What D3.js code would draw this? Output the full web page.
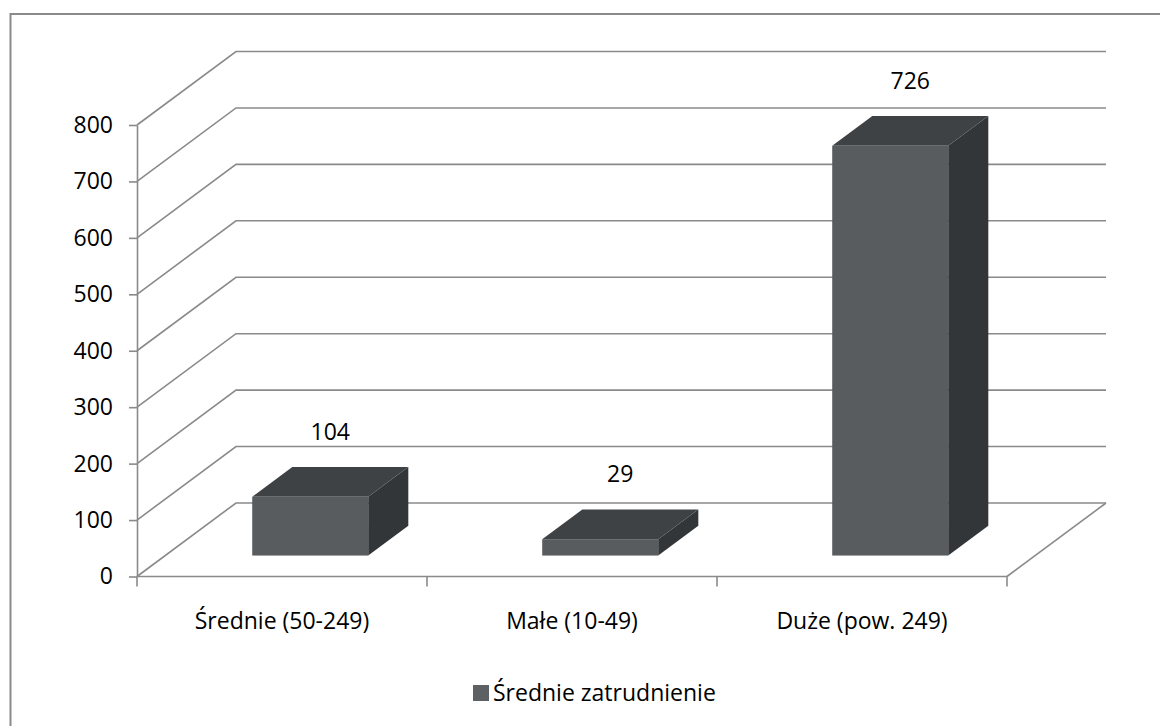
<!DOCTYPE html>
<html>
<head>
<meta charset="utf-8">
<script src="https://cdn.jsdelivr.net/npm/d3@7"></script>
<style>
  html, body { margin: 0; padding: 0; background: #fff; }
  svg { display: block; }
  text { font-family: "Open Sans", Lato, sans-serif; fill: #000; }
</style>
</head>
<body>
<svg id="chart" width="1160" height="726"></svg>
<script>
// Average employment by company size
const categories = ["Średnie (50-249)", "Małe (10-49)", "Duże (pow. 249)"];
const values = [104, 29, 726];
const yTickValues = [0, 100, 200, 300, 400, 500, 600, 700, 800];
const seriesName = "Średnie zatrudnienie";

const svg = d3.select("#chart");
const W = 1160, H = 726;
const FONT = "'Open Sans', Lato, sans-serif";
const FONT_SIZE = "23px";

// 3D frame geometry (oblique projection)
const plot = { left: 137, right: 1007, bottom: 576.5, top: 125 };
const depth = { dx: 99, dy: -73.5 };
const barDepth = [0.285, 0.69];   // fraction of the floor depth occupied by bars
const barWidthFrac = 0.4;         // bar width as fraction of the category band

const gridColor = "#8a8a8a";
const colors = { front: "#585c5e", top: "#3f4245", side: "#323639" };

const y = d3.scaleLinear().domain([0, 800]).range([plot.bottom, plot.top]);
const x = d3.scaleBand().domain(categories).range([plot.left, plot.right]).padding(0);

// Chart frame
svg.append("path")
  .attr("d", `M10.5,${H} L10.5,14 L${W},14`)
  .attr("fill", "none").attr("stroke", gridColor).attr("stroke-width", 2);

// Side wall diagonals + back wall gridlines
const grid = svg.append("g").attr("fill", "none").attr("stroke", gridColor).attr("stroke-width", 1.6);
yTickValues.forEach(v => {
  const yy = y(v);
  grid.append("path")
    .attr("d", `M${plot.left},${yy} L${plot.left + depth.dx},${yy + depth.dy} L${plot.right + depth.dx},${yy + depth.dy}`);
});
// Floor edges
grid.append("path")
  .attr("d", `M${plot.right},${y(0)} L${plot.right + depth.dx},${y(0) + depth.dy}`);
grid.append("path")
  .attr("d", `M${plot.left},${y(0)} L${plot.right},${y(0)}`);

// Left value axis
const yAxis = d3.axisLeft(y).tickValues(yTickValues).tickSize(8).tickSizeOuter(0).tickPadding(16);
const gy = svg.append("g").attr("transform", `translate(${plot.left},0)`).call(yAxis);
gy.select(".domain").attr("stroke", gridColor).attr("stroke-width", 1.6);
gy.selectAll(".tick line").attr("stroke", gridColor).attr("stroke-width", 1.6);
gy.selectAll(".tick text").style("font-size", FONT_SIZE).style("font-family", FONT).attr("fill", "#000");

// Category axis: labels at band centres, ticks at band boundaries
const xAxis = d3.axisBottom(x).tickSize(0).tickPadding(0);
const gx = svg.append("g").attr("transform", `translate(0,${plot.bottom})`).call(xAxis);
gx.select(".domain").remove();
gx.selectAll(".tick text")
  .attr("y", 52).attr("dy", 0)
  .style("font-size", FONT_SIZE).style("font-family", FONT).attr("fill", "#000");
const boundaries = categories.map(c => x(c)).concat([x(categories[categories.length - 1]) + x.bandwidth()]);
svg.append("g").selectAll("line").data(boundaries).join("line")
  .attr("x1", d => d).attr("x2", d => d)
  .attr("y1", plot.bottom).attr("y2", plot.bottom + 10)
  .attr("stroke", gridColor).attr("stroke-width", 1.6);

// Bars
const bw = x.bandwidth() * barWidthFrac;
const off0 = { x: depth.dx * barDepth[0], y: depth.dy * barDepth[0] };
const dd = { x: depth.dx * (barDepth[1] - barDepth[0]), y: depth.dy * (barDepth[1] - barDepth[0]) };

const bars = svg.append("g").selectAll("g").data(categories.map((c, i) => ({ c, v: values[i] }))).join("g");
bars.each(function(d) {
  const g = d3.select(this);
  const x0 = x(d.c) + (x.bandwidth() - bw) / 2 + off0.x;
  const x1 = x0 + bw;
  const yTop = y(d.v) + off0.y;
  const yBot = y(0) + off0.y;
  g.append("path").attr("fill", colors.side)
    .attr("d", `M${x1},${yTop} L${x1 + dd.x},${yTop + dd.y} L${x1 + dd.x},${yBot + dd.y} L${x1},${yBot} Z`);
  g.append("path").attr("fill", colors.top)
    .attr("d", `M${x0},${yTop} L${x1},${yTop} L${x1 + dd.x},${yTop + dd.y} L${x0 + dd.x},${yTop + dd.y} Z`);
  g.append("rect").attr("fill", colors.front)
    .attr("x", x0).attr("y", yTop).attr("width", bw).attr("height", yBot - yTop);
  g.append("text")
    .attr("x", x0 + bw / 2 + dd.x / 2)
    .attr("y", yTop + dd.y - 27)
    .attr("text-anchor", "middle")
    .style("font-size", FONT_SIZE)
    .text(d.v);
});

// Legend
const legend = svg.append("g").attr("transform", "translate(473,685)");
legend.append("rect").attr("width", 16).attr("height", 16).attr("fill", "#5e6163");
legend.append("text").attr("x", 20).attr("y", 15.5).style("font-size", FONT_SIZE).text(seriesName);
</script>
</body>
</html>
